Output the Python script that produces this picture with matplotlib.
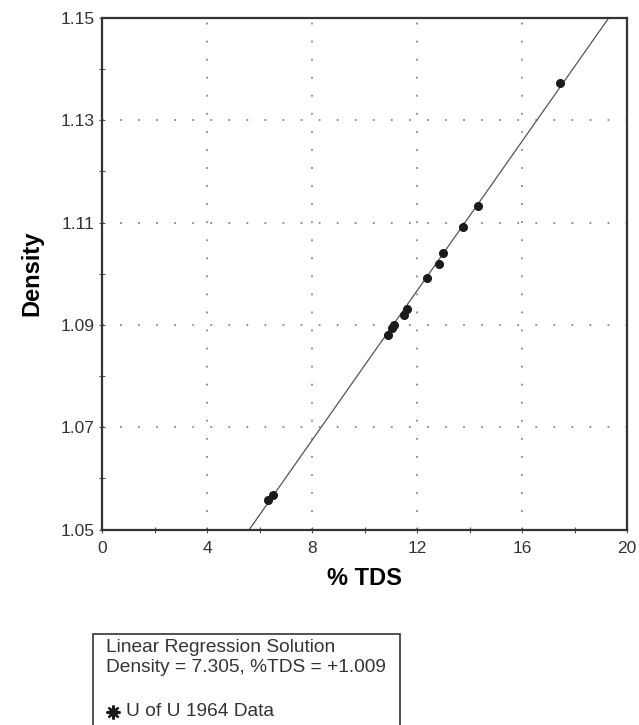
import numpy as np
import matplotlib.pyplot as plt
from matplotlib.patches import Rectangle
from matplotlib.lines import Line2D

plt.rcParams['font.family'] = ['Liberation Sans', 'DejaVu Sans']

# U of U 1964 data
tds = [6.31, 6.50, 10.91, 11.04, 11.14, 11.52, 11.63, 12.37, 12.85, 13.0, 13.77, 14.34, 17.45]
density = [1.0558, 1.0568, 1.0881, 1.0894, 1.0900, 1.0920, 1.0931, 1.0991, 1.1020, 1.1041, 1.1091, 1.1132, 1.1372]

# regression: Density = 7.305e-3 * %TDS + 1.009
slope = 7.305e-3
intercept = 1.009

x_ticks = [0, 4, 8, 12, 16, 20]
y_ticks = [1.05, 1.07, 1.09, 1.11, 1.13, 1.15]

fig = plt.figure(figsize=(6.39, 7.25), dpi=100)
ax = fig.add_axes([102/639, 1-529.5/725, (627-102)/639, (529.5-18)/725])

xl = np.array([0, 20])
ax.plot(xl, slope*xl + intercept, color='#555555', linewidth=0.9, zorder=2)
ax.plot(tds, density, linestyle='none', marker='o', markersize=5.5,
        color='#1a1a1a', zorder=3)

ax.set_xlim(0, 20)
ax.set_ylim(1.05, 1.15)
ax.set_xticks(x_ticks)
ax.set_yticks(y_ticks)
ax.set_yticklabels(['%.2f' % v for v in y_ticks])
ax.set_xticks(np.arange(2, 20, 4), minor=True)
ax.set_yticks(np.arange(1.06, 1.15, 0.02), minor=True)
ax.grid(True, which='major', linestyle=(0, (1, 9)), color='#888888', linewidth=1.3)
ax.tick_params(which='both', direction='inout', length=4, width=0.8,
               colors='#555555', labelcolor='#333333', labelsize=12.5)
ax.tick_params(axis='x', pad=6)
for sp in ax.spines.values():
    sp.set_linewidth(1.6)
    sp.set_color('#333333')

ax.set_xlabel('% TDS', fontsize=17, fontweight='bold', labelpad=8)
ax.set_ylabel('Density', fontsize=17, fontweight='bold', labelpad=12)

# legend box under the plot
fig.patches.append(Rectangle((93/639, -0.05), (400-93)/639, 0.05 + (725-634)/725,
                             transform=fig.transFigure, fill=False,
                             edgecolor='#333333', linewidth=1.2))
fig.text(106/639, 1-648/725, 'Linear Regression Solution', fontsize=13.8,
         color='#333333', va='center')
fig.text(106/639, 1-667/725, 'Density = 7.305, %TDS = +1.009', fontsize=13.8,
         color='#333333', va='center')
fig.lines.append(Line2D([113/639], [1-712/725], transform=fig.transFigure,
                        marker=(8, 2, 0), markersize=10, color='#1a1a1a',
                        markeredgewidth=1.6, linestyle='none'))
fig.lines.append(Line2D([113/639], [1-712/725], transform=fig.transFigure,
                        marker='o', markersize=5.5, color='#1a1a1a', linestyle='none'))
fig.text(126/639, 1-712/725, 'U of U 1964 Data', fontsize=13.8,
         color='#333333', va='center')

fig.savefig('out.png', dpi=100)
